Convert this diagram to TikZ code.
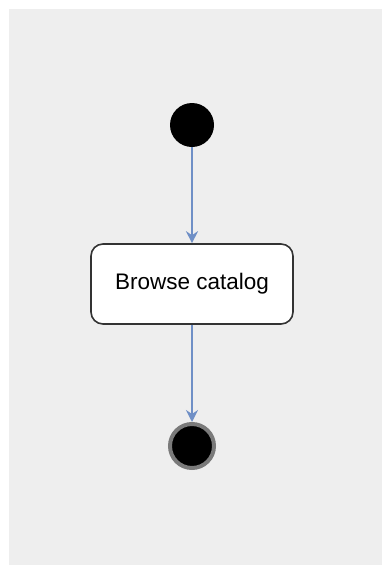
\documentclass[tikz,border=0pt]{standalone}
\usepackage{fontspec}
\setmainfont{Liberation Sans}
\usetikzlibrary{arrows.meta}
\definecolor{bggray}{HTML}{EEEEEE}
\definecolor{flowblue}{HTML}{6F8FC6}
\definecolor{ringgray}{HTML}{7A7A7A}
\tikzset{
  flow/.style={draw=flowblue, line width=2pt, -{Stealth[length=12pt,width=12pt,inset=4pt]}},
  actbox/.style={draw=black!80, line width=1.6pt, fill=white, rounded corners=12pt,
    minimum width=202pt, minimum height=80pt, font=\fontsize{22.5}{26}\selectfont},
  startnode/.style={circle, fill=black, minimum size=44pt, inner sep=0pt},
  endnode/.style={circle, fill=black, draw=ringgray, line width=4pt, minimum size=44pt, inner sep=0pt},
}
\begin{document}
\begin{tikzpicture}[x=1pt,y=-1pt]
\useasboundingbox (0,0) rectangle (382,565);
\fill[bggray] (9,9) rectangle (382,565);
\node[startnode] (start) at (192,125) {};
\node[actbox] (browse) at (192,284) {Browse catalog};
\node[endnode] (end) at (192,446) {};
\draw[flow] (start) -- (browse);
\draw[flow] (browse) -- (end);
\end{tikzpicture}
\end{document}
